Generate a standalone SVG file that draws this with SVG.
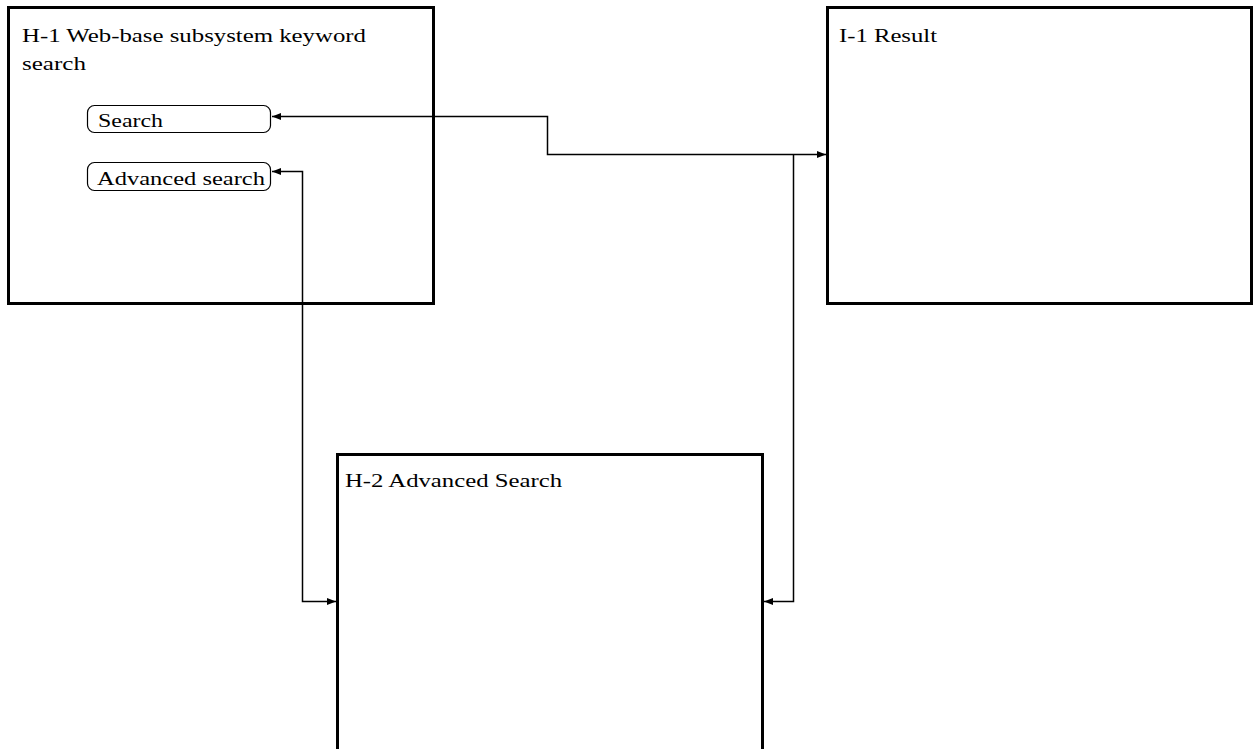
<svg xmlns="http://www.w3.org/2000/svg" width="1256" height="749" viewBox="0 0 1256 749">
<style>
.box{fill:#fff;stroke:#000;stroke-width:3}
.pill{fill:#fff;stroke:#000;stroke-width:1.2}
.t{font-family:"Liberation Serif","DejaVu Serif",serif;font-size:19px;fill:#000}
.c{fill:none;stroke:#000;stroke-width:1.5}
</style>
<defs>
<marker id="ah" viewBox="0 0 10 10" refX="10" refY="5" markerWidth="9" markerHeight="9" markerUnits="userSpaceOnUse" orient="auto-start-reverse">
<path d="M0,1 L10,5 L0,9 Z" fill="#000"/>
</marker>
</defs>
<rect width="1256" height="749" fill="#fff"/>
<g id="H1">
<rect class="box" x="8.5" y="7.5" width="425" height="296"/>
<text class="t" x="22" y="42" textLength="344" lengthAdjust="spacingAndGlyphs">H-1 Web-base subsystem keyword</text>
<text class="t" x="22" y="70" textLength="64" lengthAdjust="spacingAndGlyphs">search</text>
</g>
<g id="search">
<rect class="pill" x="87.5" y="105.5" width="183" height="27" rx="7"/>
<text class="t" x="98" y="127" textLength="65" lengthAdjust="spacingAndGlyphs">Search</text>
</g>
<g id="advsearch">
<rect class="pill" x="87.5" y="162.5" width="183" height="28" rx="7"/>
<text class="t" x="97" y="185" textLength="168" lengthAdjust="spacingAndGlyphs">Advanced search</text>
</g>
<g id="I1">
<rect class="box" x="827.5" y="7.5" width="424" height="296"/>
<text class="t" x="839" y="42" textLength="98" lengthAdjust="spacingAndGlyphs">I-1 Result</text>
</g>
<g id="H2">
<rect class="box" x="337.5" y="454.5" width="425" height="310"/>
<text class="t" x="345" y="487" textLength="217" lengthAdjust="spacingAndGlyphs">H-2 Advanced Search</text>
</g>
<g id="connectors">
<path class="c" d="M826,154.5 L547.5,154.5 L547.5,116.5 L272,116.5" marker-start="url(#ah)" marker-end="url(#ah)"/>
<path class="c" d="M793.5,154.5 L793.5,601.5 L764,601.5" marker-end="url(#ah)"/>
<path class="c" d="M272,171.5 L302.5,171.5 L302.5,601.5 L336,601.5" marker-start="url(#ah)" marker-end="url(#ah)"/>
</g>
</svg>
